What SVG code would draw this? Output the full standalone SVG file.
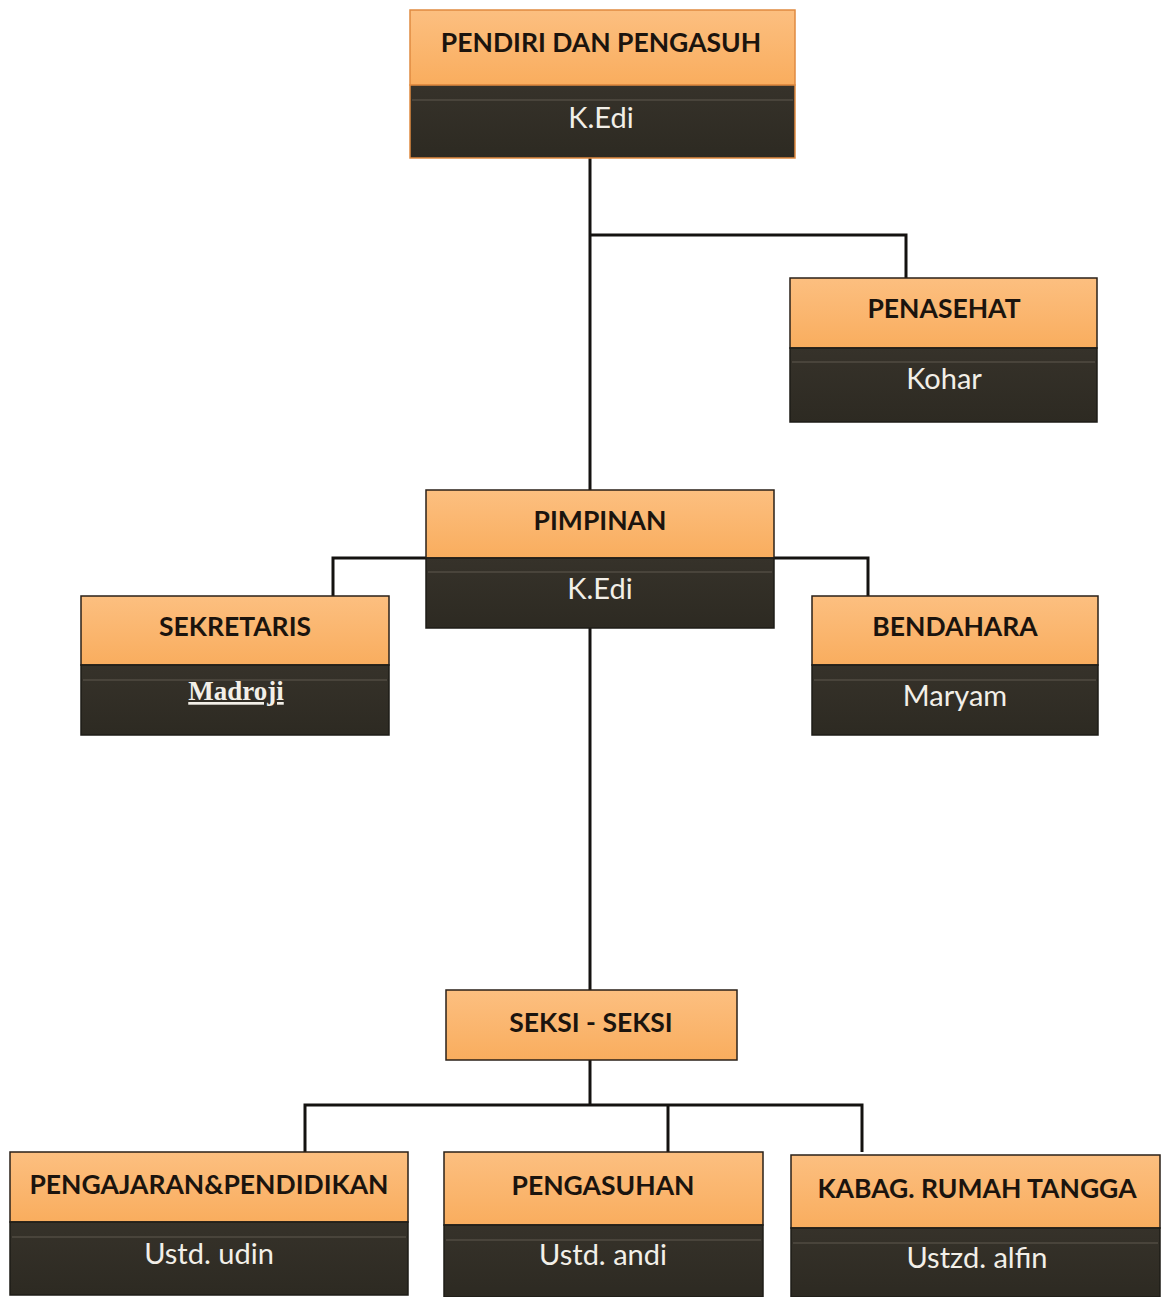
<svg xmlns="http://www.w3.org/2000/svg" width="1162" height="1297" viewBox="0 0 1162 1297">
<defs>
<linearGradient id="og" x1="0" y1="0" x2="0" y2="1">
<stop offset="0" stop-color="#fcbf80"/>
<stop offset="1" stop-color="#f9ad5e"/>
</linearGradient>
<linearGradient id="dg" x1="0" y1="0" x2="0" y2="1">
<stop offset="0" stop-color="#36322a"/>
<stop offset="1" stop-color="#2d2a22"/>
</linearGradient>
</defs>
<style>
.o{fill:url(#og);stroke:#2a2118;stroke-width:1.5}
.d{fill:url(#dg);stroke:#1e1c17;stroke-width:1.5}
.hl{stroke:#7a7569;stroke-width:1;opacity:0.6}
.h{font-family:Lato,"Open Sans",sans-serif;font-size:26.5px;font-weight:bold;fill:#1b140e;text-anchor:middle}
.n{font-family:Lato,"Open Sans",sans-serif;font-size:29px;fill:#f2efe8;text-anchor:middle}
.c{fill:none;stroke:#141210;stroke-width:3}
</style>
<rect width="1162" height="1297" fill="#ffffff"/>
<g id="connectors">
<polyline class="c" points="590,158 590,490"/>
<polyline class="c" points="590,235 906,235 906,278"/>
<polyline class="c" points="426,558 333,558 333,596"/>
<polyline class="c" points="774,558 868,558 868,596"/>
<polyline class="c" points="590,628 590,990"/>
<polyline class="c" points="590,1060 590,1105"/>
<polyline class="c" points="305,1152 305,1105 862,1105 862,1152"/>
<polyline class="c" points="668,1105 668,1152"/>
</g>
<g id="pendiri">
<rect class="o" x="410" y="10" width="385" height="75" style="stroke:#e08a40"/>
<rect class="d" x="410" y="85" width="385" height="73" style="stroke:#e08a40"/>
<line class="hl" x1="412" y1="100" x2="793" y2="100"/>
<text class="h" x="601" y="52">PENDIRI DAN PENGASUH</text>
<text class="n" x="601" y="128">K.Edi</text>
</g>
<g id="penasehat">
<rect class="o" x="790" y="278" width="307" height="70"/>
<rect class="d" x="790" y="348" width="307" height="74"/>
<line class="hl" x1="792" y1="362" x2="1095" y2="362"/>
<text class="h" x="944" y="318">PENASEHAT</text>
<text class="n" x="944" y="389">Kohar</text>
</g>
<g id="pimpinan">
<rect class="o" x="426" y="490" width="348" height="68"/>
<rect class="d" x="426" y="558" width="348" height="70"/>
<line class="hl" x1="428" y1="572" x2="772" y2="572"/>
<text class="h" x="600" y="530">PIMPINAN</text>
<text class="n" x="600" y="599">K.Edi</text>
</g>
<g id="sekretaris">
<rect class="o" x="81" y="596" width="308" height="69"/>
<rect class="d" x="81" y="665" width="308" height="70"/>
<line class="hl" x1="83" y1="680" x2="387" y2="680"/>
<text class="h" x="235" y="636">SEKRETARIS</text>
<text x="236" y="700" style="font-family:'Liberation Serif',serif;font-size:27px;font-weight:bold;fill:#f2efe8;text-anchor:middle;text-decoration:underline">Madroji</text>
</g>
<g id="bendahara">
<rect class="o" x="812" y="596" width="286" height="69"/>
<rect class="d" x="812" y="665" width="286" height="70"/>
<line class="hl" x1="814" y1="680" x2="1096" y2="680"/>
<text class="h" x="955" y="636">BENDAHARA</text>
<text class="n" x="955" y="706">Maryam</text>
</g>
<g id="seksi">
<rect class="o" x="446" y="990" width="291" height="70"/>
<text class="h" x="591" y="1032">SEKSI - SEKSI</text>
</g>
<g id="pengajaran">
<rect class="o" x="10" y="1152" width="398" height="70"/>
<rect class="d" x="10" y="1222" width="398" height="73"/>
<line class="hl" x1="12" y1="1237" x2="406" y2="1237"/>
<text class="h" x="209" y="1194">PENGAJARAN&amp;PENDIDIKAN</text>
<text class="n" x="209" y="1264">Ustd. udin</text>
</g>
<g id="pengasuhan">
<rect class="o" x="444" y="1152" width="319" height="73"/>
<rect class="d" x="444" y="1225" width="319" height="72"/>
<line class="hl" x1="446" y1="1240" x2="761" y2="1240"/>
<text class="h" x="603" y="1195">PENGASUHAN</text>
<text class="n" x="603" y="1265">Ustd. andi</text>
</g>
<g id="kabag">
<rect class="o" x="791" y="1155" width="369" height="73"/>
<rect class="d" x="791" y="1228" width="369" height="69"/>
<line class="hl" x1="793" y1="1243" x2="1158" y2="1243"/>
<text class="h" x="977" y="1198">KABAG. RUMAH TANGGA</text>
<text class="n" x="977" y="1268">Ustzd. alfin</text>
</g>
</svg>
